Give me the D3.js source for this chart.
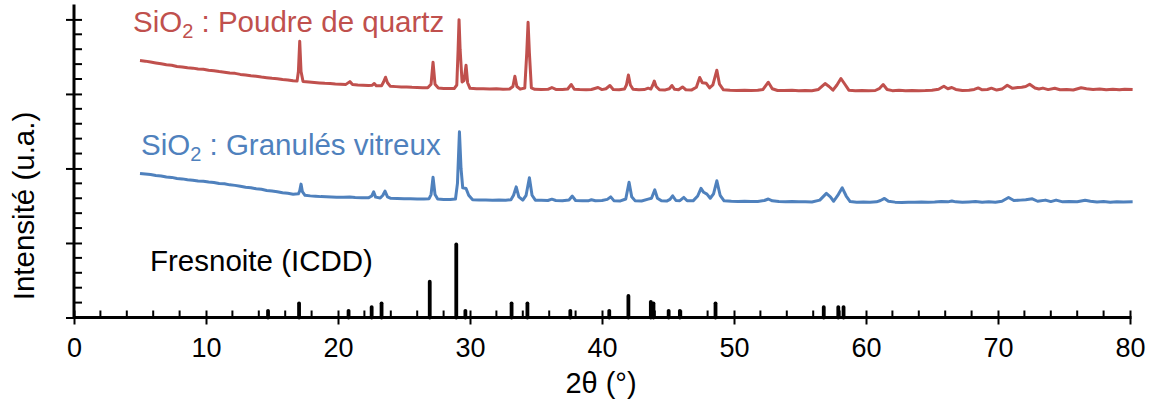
<!DOCTYPE html>
<html>
<head>
<meta charset="utf-8">
<script src="https://cdn.jsdelivr.net/npm/d3@7"></script>
<style>
  html, body { margin: 0; padding: 0; background: #fff; }
  svg { display: block; font-family: "Liberation Sans", Arial, sans-serif; }
</style>
</head>
<body>
<svg id="chart" width="1153" height="401"></svg>
<script>
// ---------- DATA ----------
const xMajorTicks = [0, 10, 20, 30, 40, 50, 60, 70, 80];
const yMajorTicks = [0, 1, 2, 3, 4];
const xLabel = "2θ (°)";
const yLabel = "Intensité (u.a.)";

// SiO2 : Poudre de quartz  [2θ, intensity (a.u.)]
const quartzPattern = [
[5.0,3.448],[5.4,3.440],[5.8,3.428],[6.2,3.416],[6.6,3.404],[7.0,3.392],[7.4,3.385],[7.8,3.368],[8.2,3.362],[8.6,3.350],
[9.0,3.346],[9.4,3.334],[9.8,3.330],[10.2,3.318],[10.6,3.310],[11.0,3.300],[11.4,3.292],[11.8,3.280],[12.2,3.276],[12.6,3.262],
[13.0,3.255],[13.4,3.244],[13.8,3.236],[14.2,3.226],[14.6,3.218],[15.0,3.210],[15.4,3.204],[15.8,3.193],[16.2,3.188],[16.6,3.176],
[16.9,3.172],[17.0,3.30],[17.1,3.706],[17.2,3.30],[17.35,3.168],[17.8,3.160],[18.2,3.154],[18.6,3.148],[19.0,3.143],[19.4,3.140],
[19.8,3.134],[20.2,3.131],[20.6,3.128],[20.9,3.165],[21.1,3.126],[21.5,3.120],[21.9,3.116],[22.3,3.112],[22.6,3.118],[22.75,3.140],
[22.9,3.110],[23.3,3.110],[23.45,3.160],[23.6,3.224],[23.75,3.150],[23.95,3.104],[24.4,3.098],[24.8,3.094],[25.2,3.092],[25.6,3.088],
[26.0,3.086],[26.4,3.084],[26.8,3.082],[27.05,3.13],[27.2,3.425],[27.35,3.13],[27.6,3.080],[28.0,3.074],[28.4,3.073],[28.8,3.072],
[29.0,3.12],[29.1,3.60],[29.17,3.997],[29.25,3.60],[29.4,3.16],[29.55,3.18],[29.7,3.385],[29.82,3.15],[30.0,3.075],[30.5,3.068],
[31.0,3.070],[31.5,3.066],[32.0,3.068],[32.5,3.063],[33.0,3.066],[33.25,3.10],[33.4,3.237],[33.55,3.10],[33.8,3.064],[34.15,3.08],
[34.3,3.55],[34.4,3.961],[34.5,3.55],[34.65,3.08],[34.9,3.062],[35.4,3.060],[35.9,3.062],[36.2,3.086],[36.5,3.060],[37.0,3.058],
[37.4,3.066],[37.67,3.126],[37.9,3.062],[38.3,3.058],[38.8,3.056],[39.2,3.060],[39.7,3.086],[40.0,3.058],[40.3,3.070],[40.6,3.113],
[40.85,3.060],[41.3,3.056],[41.7,3.065],[41.85,3.12],[42.0,3.255],[42.15,3.12],[42.35,3.062],[42.8,3.056],[43.2,3.058],[43.5,3.077],
[43.7,3.065],[43.85,3.12],[43.96,3.172],[44.1,3.10],[44.35,3.056],[44.8,3.054],[45.1,3.070],[45.3,3.113],[45.5,3.062],[45.8,3.056],
[46.1,3.094],[46.35,3.056],[46.8,3.054],[47.15,3.09],[47.4,3.220],[47.6,3.150],[47.9,3.143],[48.15,3.080],[48.4,3.120],[48.7,3.318],
[48.9,3.130],[49.2,3.056],[49.7,3.050],[50.2,3.047],[50.8,3.050],[51.3,3.046],[51.8,3.048],[52.2,3.060],[52.6,3.157],[52.9,3.070],
[53.3,3.046],[53.8,3.045],[54.4,3.048],[54.9,3.044],[55.4,3.046],[55.9,3.043],[56.4,3.060],[56.9,3.139],[57.2,3.100],[57.5,3.050],
[57.8,3.120],[58.1,3.207],[58.4,3.130],[58.7,3.050],[59.2,3.043],[59.7,3.046],[60.2,3.042],[60.7,3.046],[61.0,3.070],[61.3,3.126],
[61.6,3.060],[62.0,3.044],[62.5,3.048],[63.0,3.043],[63.5,3.047],[64.0,3.044],[64.5,3.046],[65.0,3.050],[65.5,3.062],[65.9,3.103],
[66.2,3.070],[66.5,3.086],[66.8,3.060],[67.3,3.045],[67.8,3.048],[68.2,3.060],[68.5,3.080],[68.8,3.055],[69.2,3.060],[69.5,3.077],
[69.9,3.052],[70.3,3.065],[70.7,3.117],[71.1,3.075],[71.5,3.085],[71.8,3.090],[72.1,3.100],[72.4,3.130],[72.8,3.080],[73.1,3.066],
[73.4,3.078],[73.8,3.058],[74.3,3.076],[74.7,3.056],[75.2,3.060],[75.7,3.052],[76.3,3.083],[76.7,3.070],[77.2,3.060],[77.7,3.066],
[78.2,3.055],[78.7,3.062],[79.2,3.056],[79.6,3.064],[80.2,3.060]
];

// SiO2 : Granulés vitreux  [2θ, intensity (a.u.)]
const glassPattern = [
[5.0,1.933],[5.4,1.925],[5.8,1.918],[6.2,1.906],[6.6,1.900],[7.0,1.886],[7.4,1.880],[7.8,1.866],[8.2,1.860],[8.6,1.848],
[9.0,1.843],[9.4,1.833],[9.8,1.828],[10.2,1.818],[10.6,1.812],[11.0,1.799],[11.4,1.795],[11.8,1.780],[12.2,1.773],[12.6,1.762],
[13.0,1.749],[13.4,1.742],[13.8,1.727],[14.2,1.720],[14.6,1.705],[15.0,1.696],[15.4,1.688],[15.8,1.675],[16.2,1.666],[16.6,1.655],
[17.0,1.660],[17.1,1.700],[17.2,1.790],[17.3,1.690],[17.5,1.640],[17.9,1.632],[18.3,1.628],[18.7,1.622],[19.1,1.620],[19.5,1.617],
[19.9,1.615],[20.4,1.613],[20.9,1.616],[21.3,1.610],[21.8,1.608],[22.3,1.606],[22.55,1.630],[22.7,1.686],[22.85,1.615],[23.2,1.604],
[23.4,1.640],[23.56,1.696],[23.75,1.620],[24.0,1.600],[24.5,1.598],[25.0,1.595],[25.5,1.593],[26.0,1.590],[26.5,1.589],[26.9,1.595],
[27.05,1.650],[27.2,1.883],[27.35,1.650],[27.55,1.590],[28.0,1.584],[28.5,1.582],[28.9,1.590],[29.05,1.80],[29.2,2.491],[29.32,2.00],
[29.45,1.740],[29.7,1.732],[29.9,1.640],[30.2,1.580],[30.7,1.576],[31.2,1.578],[31.7,1.574],[32.2,1.576],[32.7,1.572],[33.1,1.580],
[33.3,1.640],[33.5,1.753],[33.7,1.620],[34.0,1.575],[34.25,1.640],[34.5,1.874],[34.7,1.640],[34.95,1.574],[35.4,1.572],[35.9,1.570],
[36.2,1.588],[36.5,1.570],[37.0,1.568],[37.5,1.578],[37.75,1.629],[38.0,1.570],[38.5,1.566],[39.0,1.568],[39.2,1.580],[39.5,1.566],
[40.0,1.570],[40.4,1.585],[40.66,1.619],[40.9,1.568],[41.4,1.564],[41.8,1.590],[42.05,1.816],[42.25,1.620],[42.5,1.568],[43.0,1.564],
[43.5,1.588],[43.75,1.600],[44.0,1.713],[44.2,1.600],[44.5,1.565],[44.9,1.562],[45.15,1.585],[45.35,1.633],[45.6,1.570],[45.9,1.568],
[46.2,1.611],[46.45,1.566],[46.9,1.565],[47.25,1.630],[47.5,1.732],[47.7,1.680],[47.95,1.655],[48.2,1.600],[48.45,1.660],[48.7,1.834],
[48.95,1.640],[49.25,1.565],[49.8,1.560],[50.3,1.558],[50.8,1.560],[51.3,1.556],[51.8,1.558],[52.3,1.570],[52.6,1.590],[52.9,1.566],
[53.4,1.556],[53.9,1.554],[54.4,1.556],[54.9,1.552],[55.4,1.554],[55.9,1.550],[56.5,1.575],[57.0,1.665],[57.3,1.620],[57.55,1.560],
[57.9,1.650],[58.2,1.740],[58.5,1.630],[58.8,1.555],[59.3,1.548],[59.8,1.550],[60.3,1.546],[60.8,1.552],[61.1,1.570],[61.4,1.598],
[61.7,1.560],[62.2,1.548],[62.7,1.544],[63.2,1.548],[63.7,1.545],[64.2,1.550],[64.7,1.546],[65.2,1.550],[65.7,1.556],[66.2,1.552],
[66.5,1.564],[66.8,1.552],[67.3,1.546],[67.8,1.550],[68.3,1.555],[68.8,1.548],[69.3,1.552],[69.8,1.547],[70.3,1.560],[70.8,1.611],
[71.2,1.570],[71.7,1.575],[72.1,1.580],[72.6,1.592],[73.0,1.560],[73.6,1.575],[74.0,1.555],[74.4,1.575],[74.9,1.552],[75.4,1.556],
[76.0,1.552],[76.6,1.572],[77.0,1.560],[77.5,1.550],[78.0,1.556],[78.5,1.548],[79.0,1.554],[79.5,1.550],[80.2,1.552]
];

// Fresnoite (ICDD) reference lines
const fresnoitePos = [14.7, 17.05, 20.8, 22.55, 23.3, 26.95, 28.96, 29.65, 33.15, 34.35, 37.6, 40.55, 42.0, 43.7, 43.9, 45.05, 45.9, 48.6, 56.8, 57.9, 58.3];
const fresnoiteInt = [0.09, 0.19, 0.09, 0.14, 0.19, 0.48, 0.98, 0.09, 0.19, 0.19, 0.09, 0.09, 0.29, 0.21, 0.19, 0.09, 0.09, 0.19, 0.14, 0.14, 0.14];

const seriesNames = ["SiO", " : Poudre de quartz", " : Granulés vitreux", "Fresnoite (ICDD)"];

// ---------- DRAW ----------
const svg = d3.select("#chart");
const x = d3.scaleLinear().domain([0, 80]).range([74, 1130]);
const y = d3.scaleLinear().domain([0, 4.2]).range([317.5, 4.5]);

const RED = "#C0504D", BLUE = "#4F81BD";

// Fresnoite sticks
svg.append("g").selectAll("line").data(fresnoitePos).join("line")
  .attr("x1", d => x(d)).attr("x2", d => x(d))
  .attr("y1", y(0)).attr("y2", (d, i) => y(fresnoiteInt[i]))
  .attr("stroke", "#000").attr("stroke-width", 3.8).attr("stroke-linecap", "round");

const line = d3.line().x(d => x(d[0])).y(d => y(d[1]));
svg.append("path").datum(quartzPattern).attr("d", line)
  .attr("fill", "none").attr("stroke", RED).attr("stroke-width", 3).attr("stroke-linejoin", "round");
svg.append("path").datum(glassPattern).attr("d", line)
  .attr("fill", "none").attr("stroke", BLUE).attr("stroke-width", 3).attr("stroke-linejoin", "round");

// X axis
const xMinor = d3.range(0, 81, 2).filter(v => v % 10 !== 0);
const gx = svg.append("g").attr("transform", `translate(0,${y(0)})`);
gx.append("line").attr("x1", x(0)).attr("x2", x(80) + 1.5).attr("stroke", "#000").attr("stroke-width", 3.2);
gx.selectAll(".mn").data(xMinor).join("line").attr("class", "mn")
  .attr("x1", d => x(d)).attr("x2", d => x(d)).attr("y1", 0).attr("y2", -7)
  .attr("stroke", "#000").attr("stroke-width", 2);
const xAxis = d3.axisBottom(x).tickValues(xMajorTicks).tickSize(7).tickPadding(13).tickFormat(d3.format("d"));
gx.append("g").call(xAxis).call(g => {
  g.select(".domain").remove();
  g.selectAll(".tick line").attr("y1", -7).attr("stroke-width", 2);
  g.selectAll(".tick text").attr("font-size", 27).attr("fill", "#000")
    .attr("font-family", "'Liberation Sans', Arial, sans-serif");
});

// Y axis
const yMinor = d3.range(0, 4.01, 0.2).filter(v => Math.abs(v - Math.round(v)) > 0.01);
const gy = svg.append("g").attr("transform", `translate(${x(0)},0)`);
gy.append("line").attr("y1", y(4.2)).attr("y2", y(0) + 1.5).attr("stroke", "#000").attr("stroke-width", 3);
gy.selectAll(".mn").data(yMinor).join("line").attr("class", "mn")
  .attr("y1", d => y(d)).attr("y2", d => y(d)).attr("x1", 0).attr("x2", 8)
  .attr("stroke", "#000").attr("stroke-width", 2);
const yAxis = d3.axisLeft(y).tickValues(yMajorTicks).tickSize(8).tickFormat("");
gy.append("g").call(yAxis).call(g => {
  g.select(".domain").remove();
  g.selectAll(".tick line").attr("x2", 8).attr("x1", -8).attr("stroke-width", 2);
});

// Axis titles
svg.append("text").attr("x", 601).attr("y", 393).attr("text-anchor", "middle")
  .attr("font-size", 29).attr("fill", "#000").text(xLabel);
svg.append("text").attr("transform", "translate(34,206) rotate(-90)").attr("text-anchor", "middle")
  .attr("font-size", 29.5).attr("fill", "#000").text(yLabel);

// Series labels
function subLabel(tx, ty, color, rest) {
  const t = svg.append("text").attr("x", tx).attr("y", ty).attr("font-size", 29.5).attr("fill", color);
  t.append("tspan").text(seriesNames[0]);
  t.append("tspan").attr("dy", 6).attr("font-size", 20).text("2");
  t.append("tspan").attr("dy", -6).text(rest);
}
subLabel(133, 32, RED, seriesNames[1]);
subLabel(141, 155, BLUE, seriesNames[2]);
svg.append("text").attr("x", 150).attr("y", 271).attr("font-size", 29.5).attr("fill", "#000").text(seriesNames[3]);
</script>
</body>
</html>
